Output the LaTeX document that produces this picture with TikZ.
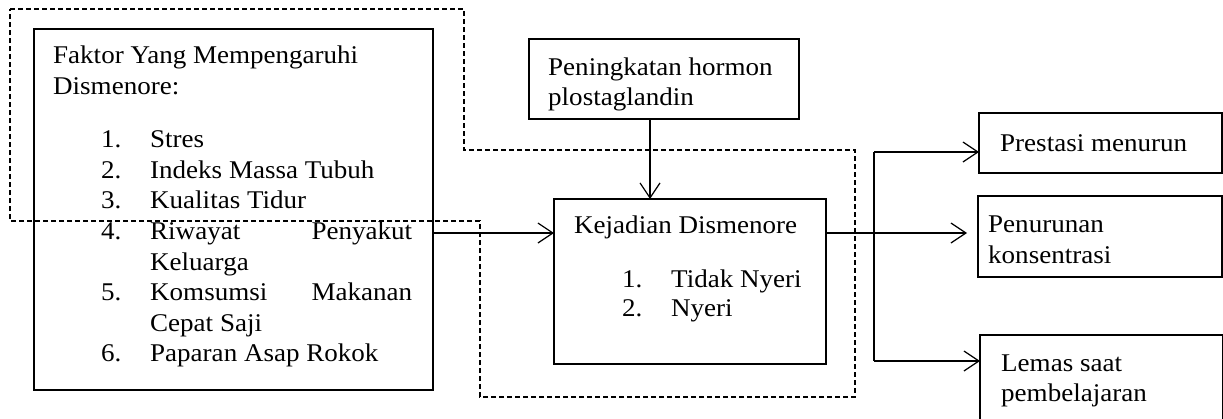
\documentclass[tikz,border=0pt]{standalone}
\usepackage{fontspec}
\setmainfont[FakeStretch=1.06]{Liberation Serif}
\usetikzlibrary{arrows.meta}
\begin{document}
\begin{tikzpicture}[x=1pt,y=-1pt,
  box/.style={draw,line width=1.2pt,rectangle,inner sep=0pt,outer sep=0pt,anchor=north west},
  txt/.style={anchor=base west,inner sep=0pt,font=\fontsize{25.5}{30}\selectfont},
  conn/.style={line width=1.2pt},
  arr/.style={conn,-{Straight Barb[length=15pt,width=20pt,line width=1.2pt]}},
  dashbound/.style={line width=1.1pt,dash pattern=on 5pt off 3pt}]
\useasboundingbox (0,0) rectangle (1223,418);
% boxes
\node[box,minimum width=399pt,minimum height=361pt] (fak) at (34,29) {};
\node[box,minimum width=270pt,minimum height=80pt] (pen) at (529,39) {};
\node[box,minimum width=272pt,minimum height=165pt] (kej) at (554,199) {};
\node[box,minimum width=243pt,minimum height=60pt] (pre) at (979,113) {};
\node[box,minimum width=244pt,minimum height=81pt] (pnr) at (978,196) {};
\node[box,minimum width=243pt,minimum height=110pt] (lem) at (980,335) {};
% dashed boundary
\draw[dashbound] (10,9) -- (464,9) -- (464,150) -- (855,150) -- (855,397) -- (480,397) -- (480,221) -- (10,221) -- cycle;
% texts left box
\node[txt] (t1) at (53,63.5) {Faktor Yang Mempengaruhi};
\node[txt] (t2) at (53,94) {Dismenore:};
\node[txt] (n1) at (101,147.5) {1.};
\node[txt] (i1) at (150,147.5) {Stres};
\node[txt] (n2) at (101,178) {2.};
\node[txt] (i2) at (150,178) {Indeks Massa Tubuh};
\node[txt] (n3) at (101,208.5) {3.};
\node[txt] (i3) at (150,208.5) {Kualitas Tidur};
\node[txt] (n4) at (101,239.5) {4.};
\node[txt] (i4) at (150,239.5) {\hbox to 262pt{Riwayat\hfill Penyakut}};
\node[txt] (i4b) at (150,270) {Keluarga};
\node[txt] (n5) at (101,300.5) {5.};
\node[txt] (i5) at (150,300.5) {\hbox to 262pt{Komsumsi\hfill Makanan}};
\node[txt] (i5b) at (150,331) {Cepat Saji};
\node[txt] (n6) at (101,361.5) {6.};
\node[txt] (i6) at (150,361.5) {Paparan Asap Rokok};
% hormone
\node[txt] (h1) at (548,75) {Peningkatan hormon};
\node[txt] (h2) at (548,105) {plostaglandin};
% kejadian
\node[txt] (k1) at (574,233) {Kejadian Dismenore};
\node[txt] (kn1) at (622,287) {1.};
\node[txt] (ki1) at (671,287) {Tidak Nyeri};
\node[txt] (kn2) at (622,316) {2.};
\node[txt] (ki2) at (671,316) {Nyeri};
% right
\node[txt] (r1) at (1000,151) {Prestasi menurun};
\node[txt] (r2) at (988,232) {Penurunan};
\node[txt] (r2b) at (988,263) {konsentrasi};
\node[txt] (r3) at (1001,371) {Lemas saat};
\node[txt] (r3b) at (1001,401) {pembelajaran};
% connectors
\draw[arr] (pen.south -| 650,0) -- (650,0 |- kej.north);
\draw[arr] (fak.east |- 0,233) -- (kej.west |- 0,233);
\coordinate (pt) at (967,233);
\draw[arr] (kej.east |- 0,233) -- (pt);
\coordinate (bt) at (874,152);
\coordinate (bb) at (874,361);
\draw[conn] (bt) -- (bb);
\draw[arr] (bt) -- (pre.west |- bt);
\draw[arr] (bb) -- (lem.west |- bb);
\end{tikzpicture}
\end{document}
